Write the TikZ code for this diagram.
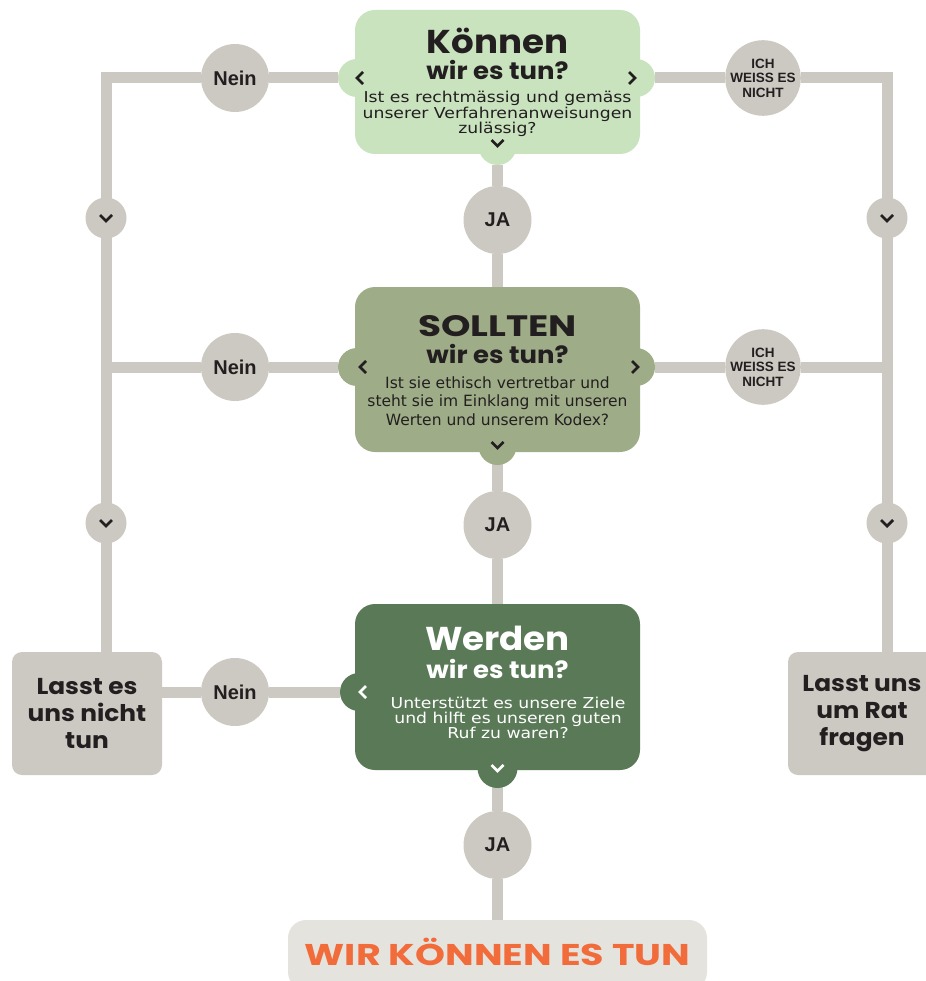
\documentclass[tikz,border=0pt]{standalone}
\usepackage{fontspec}
\setmainfont{DejaVu Sans}
\newfontfamily\widefont{DejaVu Sans}[FakeStretch=1.15]
\newfontfamily\headfont{Poppins}[FakeStretch=1.08]
\newfontfamily\capsfont{Poppins}[FakeStretch=1.27]
\newfontfamily\gridfont{Liberation Sans}
\usetikzlibrary{positioning,backgrounds}

\definecolor{stone}{HTML}{CCC8C2}
\definecolor{ink}{HTML}{231F20}
\definecolor{mint}{HTML}{C9E3BF}
\definecolor{sage}{HTML}{9EAD87}
\definecolor{forest}{HTML}{5A7A57}
\definecolor{paper}{HTML}{E5E3DE}
\definecolor{flame}{HTML}{F26B3A}

\begin{document}
\begin{tikzpicture}[x=1pt, y=-1pt,
    link/.style={draw=stone, line width=11pt},
    question/.style={
      rounded corners=20pt, inner sep=0pt,
      minimum width=285pt, minimum height=165pt
    },
    knob/.style={circle, inner sep=0pt, minimum size=38pt},
    answer/.style={
      circle, fill=stone, inner sep=0pt, minimum size=68pt, text=ink,
      font=\gridfont\bfseries\fontsize{20}{20}\selectfont
    },
    unsure/.style={answer, align=center,
      font=\gridfont\bfseries\fontsize{13.5}{14.5}\selectfont},
    toggle/.style={circle, fill=stone, inner sep=0pt, minimum size=41pt},
    verdict/.style={
      rounded corners=10pt, fill=stone, minimum width=150pt,
      minimum height=123pt, align=center, text=ink,
      font=\headfont\bfseries\fontsize{23}{27}\selectfont
    },
    title/.style={inner sep=0pt, text depth=0pt,
      font=\headfont\bfseries\fontsize{33}{33}\selectfont},
    subtitle/.style={inner sep=0pt, font=\headfont\bfseries\fontsize{24}{24}\selectfont},
    body/.style={align=center, inner sep=0pt},
    chev/.style={line width=2.8pt, line join=miter},
    chevdown/.pic={\draw[chev] (-6,-3) -- (0,3) -- (6,-3);},
    chevleft/.pic={\draw[chev] (3,-6) -- (-3,0) -- (3,6);},
    chevright/.pic={\draw[chev] (-3,-6) -- (3,0) -- (-3,6);},
  ]
    \useasboundingbox (0,0) rectangle (925,981);

    % question boxes with their knobs
    \node[question, fill=mint, minimum height=144pt](kon) at (497.5,82) {};
    \node[knob, fill=mint](kon-l) at (357,78) {};
    \node[knob, fill=mint](kon-r) at (636,78) {};
    \node[knob, fill=mint](kon-b) at (497.5,146) {};
    \node[title, text=ink](kon-t) at (497.5,41) {Können};
    \node[subtitle, text=ink](kon-s) at (497.5,70) {wir es tun?};
    \node[body, text=ink, font=\widefont\fontsize{15}{14.5}\selectfont](kon-q) at (497.5,114){
      Ist es rechtmässig und gemäss\\
      unserer Verfahrenanweisungen\\
      zulässig?
    };
    \pic[ink] at (360,78) {chevleft};
    \pic[ink] at (632,78) {chevright};
    \pic[ink] at (497.5,143) {chevdown};

    \node[question, fill=sage](sol) at (497.5,369.5) {};
    \node[knob, fill=sage](sol-l) at (357,367) {};
    \node[knob, fill=sage](sol-r) at (636,367) {};
    \node[knob, fill=sage](sol-b) at (497.5,446) {};
    \node[title, text=ink, font=\capsfont\bfseries\fontsize{29.5}{29.5}\selectfont](sol-t)
      at (497.5,326) {SOLLTEN};
    \node[subtitle, text=ink](sol-s) at (497.5,354) {wir es tun?};
    \node[body, text=ink, font=\fontsize{15.5}{18.5}\selectfont](sol-q) at (497.5,401){
      Ist sie ethisch vertretbar und\\
      steht sie im Einklang mit unseren\\
      Werten und unserem Kodex?
    };
    \pic[ink] at (363,367) {chevleft};
    \pic[ink] at (635,367) {chevright};
    \pic[ink] at (497.5,445) {chevdown};

    \node[question, fill=forest, minimum height=166pt](wer) at (497.5,687) {};
    \node[knob, fill=forest](wer-l) at (359,692) {};
    \node[knob, fill=forest, minimum size=40pt](wer-b) at (497.5,768) {};
    \node[title, text=white](wer-t) at (497.5,638) {Werden};
    \node[subtitle, text=white](wer-s) at (497.5,669) {wir es tun?};
    \node[body, text=white, font=\widefont\fontsize{15}{14.5}\selectfont](wer-q) at (508,718){
      Unterstützt es unsere Ziele\\
      und hilft es unseren guten\\
      Ruf zu waren?
    };
    \pic[white] at (363,692) {chevleft};
    \pic[white] at (497.5,768) {chevdown};

    % outcomes
    \node[verdict](lnot) at (87,713.5) {Lasst es\\uns nicht\\tun};
    \node[verdict, minimum width=148pt](lrat) at (862,713.5) {Lasst uns\\um Rat\\fragen};
    \node[rounded corners=18pt, fill=paper, minimum width=419pt, minimum height=70pt,
      text=flame, text height=21pt, text depth=0pt,
      font=\capsfont\bfseries\fontsize{30}{30}\selectfont](final)
      at (497.5,955) {WIR KÖNNEN ES TUN};

    % answers
    \node[answer](nein1) at (235,78) {Nein};
    \node[answer](nein2) at (235,367) {Nein};
    \node[answer](nein3) at (235,692) {Nein};
    \node[unsure](weiss1) at (763,78) {ICH\\WEISS ES\\NICHT};
    \node[unsure](weiss2) at (763,367) {ICH\\WEISS ES\\NICHT};
    \node[answer](ja1) at (497.5,220) {JA};
    \node[answer](ja2) at (497.5,525) {JA};
    \node[answer](ja3) at (497.5,845) {JA};

    \coordinate (lcol) at ([xshift=19pt]lnot.north);
    \coordinate (rcol) at ([xshift=25pt]lrat.north);
    \node[toggle](lt1) at (lcol |- 0,218) {};
    \node[toggle](lt2) at (lcol |- 0,523) {};
    \node[toggle](rt1) at (rcol |- 0,218) {};
    \node[toggle](rt2) at (rcol |- 0,523) {};
    \foreach \t in {lt1,lt2,rt1,rt2}
      \pic[ink] at (\t) {chevdown};

    \begin{scope}[on background layer]
      \draw[link] (kon-l) -- (nein1) -| (lcol);
      \draw[link] (sol-l) -- (nein2) -- (nein2 -| lcol);
      \draw[link] (wer-l) -- (nein3) -- (nein3 -| lnot.east);
      \draw[link] (kon-r) -- (weiss1) -| (rcol);
      \draw[link] (sol-r) -- (weiss2) -- (weiss2 -| rcol);
      \draw[link] (kon-b) -- (ja1) -- (sol) -- (ja2) -- (wer) -- (ja3) -- (final);
    \end{scope}
  \end{tikzpicture}
\end{document}
